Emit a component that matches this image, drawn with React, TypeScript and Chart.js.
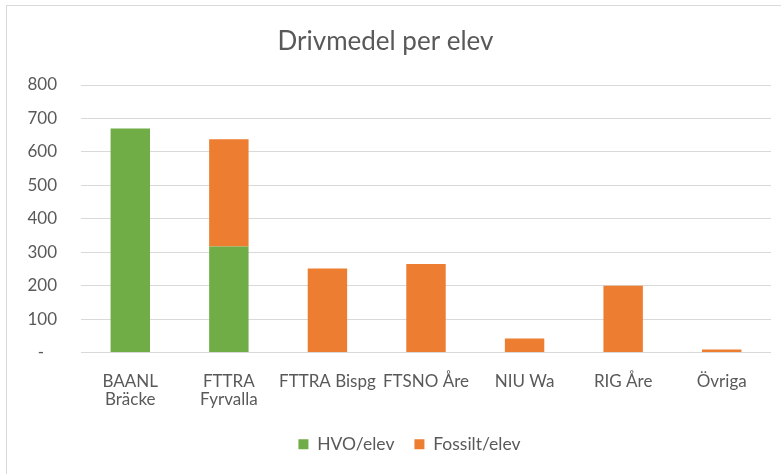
import React, { useEffect, useRef } from "react";
import { Chart, registerables } from "chart.js";

Chart.register(...registerables);

const categories: (string | string[])[] = [
  ["BAANL", "Bräcke"],
  ["FTTRA", "Fyrvalla"],
  "FTTRA Bispg",
  "FTSNO Åre",
  "NIU Wa",
  "RIG Åre",
  "Övriga",
];
const hvoPerElev = [670, 317, 0, 0, 0, 0, 0];
const fossilPerElev = [0, 321, 251, 265, 42, 200, 9];
const yTicks = [0, 100, 200, 300, 400, 500, 600, 700, 800];

const FONT = "Lato, 'Open Sans', sans-serif";
const TEXT = "#595959";

const legendShift = {
  id: "legendShift",
  afterLayout(chart: any) {
    if (chart.legend) {
      chart.legend.left += 24;
      chart.legend.right += 24;
      chart.legend.top -= 7;
      chart.legend.bottom -= 7;
    }
  },
};

export default function App() {
  const ref = useRef<HTMLCanvasElement | null>(null);

  useEffect(() => {
    document.body.style.margin = "0";
    const ctx = ref.current!;
    const chart = new Chart(ctx, {
      type: "bar",
      data: {
        labels: categories,
        datasets: [
          {
            label: "HVO/elev",
            data: hvoPerElev,
            backgroundColor: "#70AD47",
            borderWidth: 0,
            categoryPercentage: 1,
            barPercentage: 0.4,
          },
          {
            label: "Fossilt/elev",
            data: fossilPerElev,
            backgroundColor: "#ED7D31",
            borderWidth: 0,
            categoryPercentage: 1,
            barPercentage: 0.4,
          },
        ],
      },
      plugins: [legendShift],
      options: {
        animation: false,
        responsive: false,
        maintainAspectRatio: false,
        layout: { padding: { top: 26, right: 10, bottom: 4, left: 0 } },
        plugins: {
          title: {
            display: true,
            text: "Drivmedel per elev",
            color: TEXT,
            font: { family: FONT, size: 26, weight: "normal" as any },
            padding: { top: 0, bottom: 27.8 },
          },
          legend: {
            position: "bottom",
            labels: {
              color: TEXT,
              font: { family: FONT, size: 17.5 },
              boxWidth: 10,
              boxHeight: 10,
              padding: 20,
            },
          },
          tooltip: { enabled: false },
        },
        scales: {
          x: {
            stacked: true,
            grid: { display: false, drawTicks: false },
            border: { display: false },
            ticks: {
              color: TEXT,
              font: { family: FONT, size: 17, lineHeight: 1.05 },
              padding: 20,
              maxRotation: 0,
              autoSkip: false,
            },
            afterFit: (s: any) => {
              s.height = 70;
            },
          },
          y: {
            stacked: true,
            min: 0,
            max: 800,
            afterBuildTicks: (s: any) => {
              s.ticks = yTicks.map((v) => ({ value: v }));
            },
            grid: { color: "#d9d9d9", lineWidth: 1, drawTicks: false },
            border: { display: false },
            ticks: {
              color: TEXT,
              font: { family: FONT, size: 17 },
              padding: 24,
              callback: (v: any) => (Number(v) === 0 ? "-   " : String(v)),
            },
            afterFit: (s: any) => {
              s.width = 81;
            },
          },
        },
      },
    });
    return () => chart.destroy();
  }, []);

  return (
    <div style={{ position: "relative", width: 781, height: 474, background: "#fff", overflow: "hidden" }}>
      <div
        style={{
          position: "absolute",
          left: 6,
          top: 5,
          right: -2,
          bottom: -2,
          borderLeft: "1.5px solid #d9d9d9",
          borderTop: "1.5px solid #d9d9d9",
        }}
      />
      <canvas ref={ref} width={781} height={474} style={{ position: "absolute", left: 0, top: 0 }} />
    </div>
  );
}
